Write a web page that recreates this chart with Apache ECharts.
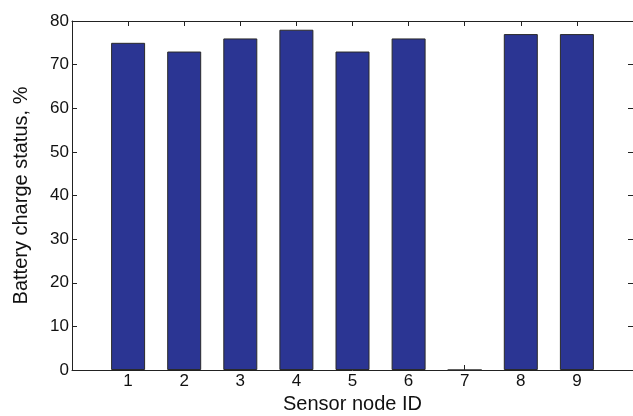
<!DOCTYPE html>
<html>
<head>
<meta charset="utf-8">
<script src="https://cdn.jsdelivr.net/npm/echarts@6/dist/echarts.min.js"></script>
<style>html,body{margin:0;padding:0;background:#fff;}#c{width:633px;height:416px;}</style>
</head>
<body>
<div id="c"></div>
<script>
var nodeIds = [1, 2, 3, 4, 5, 6, 7, 8, 9];
var batteryValues = [75, 73, 76, 78, 73, 76, 0, 77, 77];
var yTicks = [0, 10, 20, 30, 40, 50, 60, 70, 80];

var chart = echarts.init(document.getElementById('c'), null, {renderer: 'canvas'});
var font = 'Liberation Sans, Arial, Helvetica, sans-serif';
var axisColor = '#222';
var data = nodeIds.map(function (id, i) { return [id, batteryValues[i]]; });

chart.setOption({
  animation: false,
  backgroundColor: '#fff',
  grid: {left: 72, top: 21, right: 0, bottom: 46, containLabel: false, outerBoundsMode: 'none'},
  xAxis: [{
    type: 'value', min: 0, max: 10, interval: 1, position: 'bottom',
    name: 'Sensor node ID', nameLocation: 'middle', nameGap: 24,
    nameTextStyle: {fontFamily: font, fontSize: 20, color: '#111'},
    axisLine: {show: true, onZero: false, lineStyle: {color: axisColor, width: 1}},
    axisTick: {show: true, inside: true, length: 5, customValues: nodeIds, lineStyle: {color: axisColor}},
    axisLabel: {customValues: nodeIds, fontFamily: font, fontSize: 17, color: '#111', margin: 3},
    splitLine: {show: false}
  }, {
    type: 'value', min: 0, max: 10, interval: 1, position: 'top',
    axisLine: {show: true, onZero: false, lineStyle: {color: axisColor, width: 1}},
    axisTick: {show: true, inside: true, length: 5, customValues: nodeIds, lineStyle: {color: axisColor}},
    axisLabel: {show: false},
    splitLine: {show: false}
  }],
  yAxis: [{
    type: 'value', min: 0, max: 80, interval: 10, position: 'left',
    name: 'Battery charge status, %', nameLocation: 'middle', nameGap: 41,
    nameTextStyle: {fontFamily: font, fontSize: 20, color: '#111'},
    axisLine: {show: true, onZero: false, lineStyle: {color: axisColor, width: 1}},
    axisTick: {show: true, inside: true, length: 5, lineStyle: {color: axisColor}},
    axisLabel: {customValues: yTicks, fontFamily: font, fontSize: 17, color: '#111', margin: 3},
    splitLine: {show: false}
  }, {
    type: 'value', min: 0, max: 80, interval: 10, position: 'right',
    axisLine: {show: false, onZero: false},
    axisTick: {show: true, inside: true, length: 5, lineStyle: {color: axisColor}},
    axisLabel: {show: false},
    splitLine: {show: false}
  }],
  series: [{
    type: 'bar',
    xAxisIndex: 0, yAxisIndex: 0,
    data: data,
    barWidth: 34,
    itemStyle: {color: '#2b3593', borderColor: '#2a2a2a', borderWidth: 1}
  }]
});
</script>
</body>
</html>
